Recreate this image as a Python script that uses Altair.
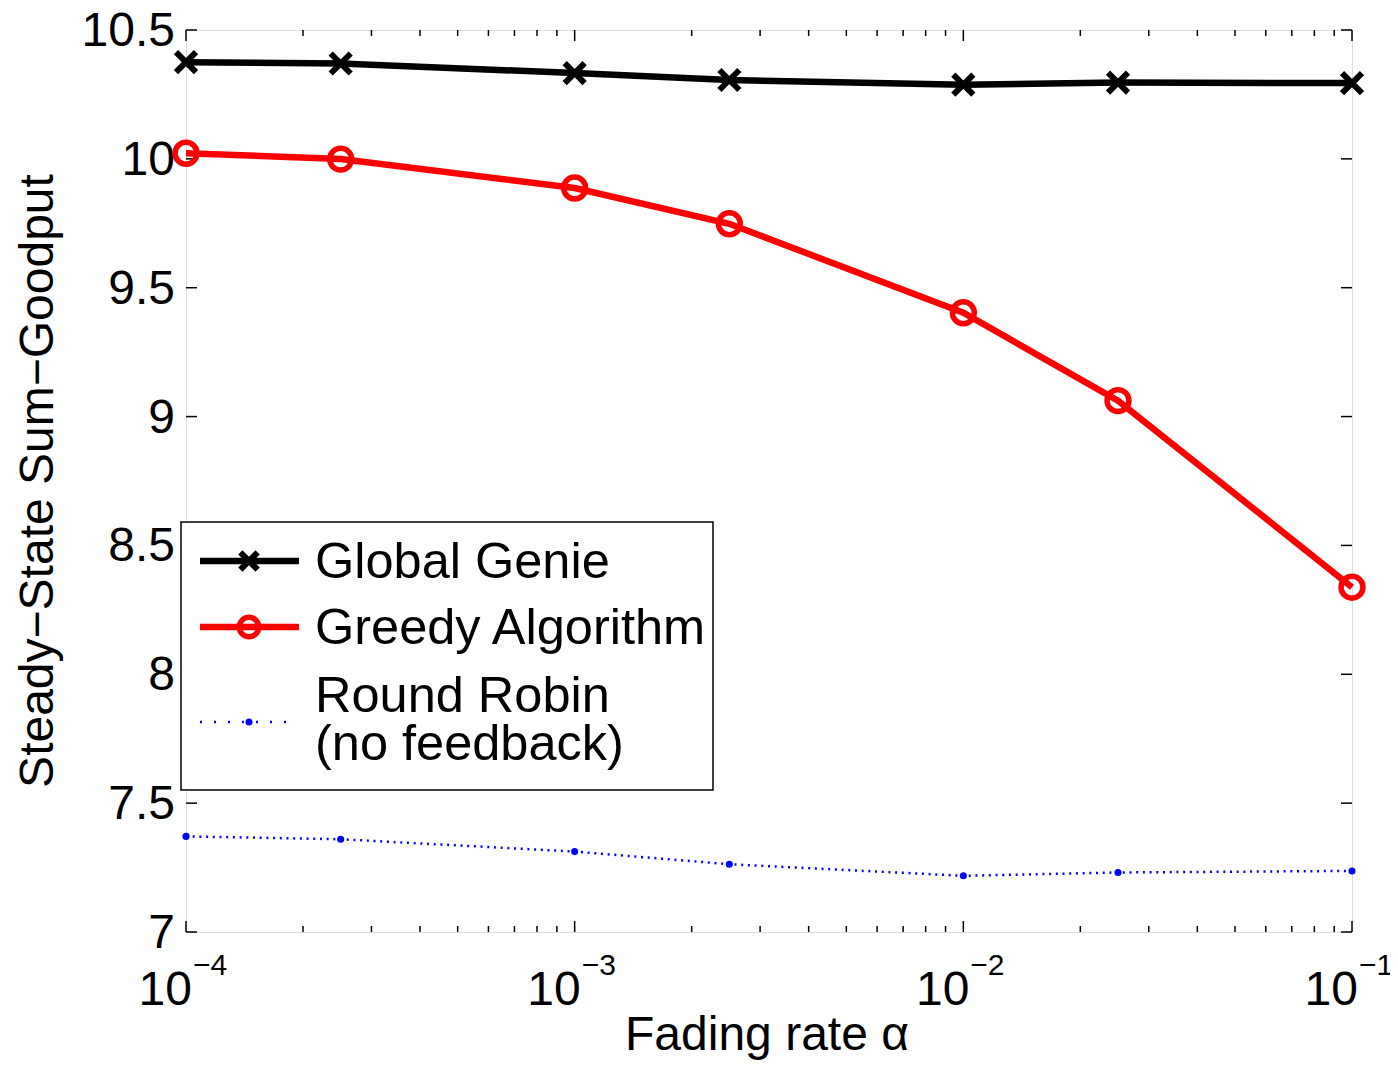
import altair as alt
import pandas as pd

# ---- data ----
alpha = [1e-4, 2.5e-4, 1e-3, 2.5e-3, 1e-2, 2.5e-2, 1e-1]
genie = [10.375, 10.370, 10.333, 10.306, 10.288, 10.296, 10.294]
greedy = [10.022, 9.999, 9.887, 9.748, 9.403, 9.062, 8.338]
robin = [7.371, 7.360, 7.312, 7.263, 7.218, 7.231, 7.237]

x_major = [1e-4, 1e-3, 1e-2, 1e-1]
x_exp = ["\u22124", "\u22123", "\u22122", "\u22121"]
x_minor = [m * d for d in [1e-4, 1e-3, 1e-2] for m in range(2, 10)]
y_ticks = [7, 7.5, 8, 8.5, 9, 9.5, 10, 10.5]
y_labels = ["7", "7.5", "8", "8.5", "9", "9.5", "10", "10.5"]

legend_labels = ["Global Genie", "Greedy Algorithm", "Round Robin", "(no feedback)"]
x_title_text = "Fading rate \u03b1"
y_title_text = "Steady\u2212State Sum\u2212Goodput"

W, H = 1166, 902
FONT = "Liberation Sans"
FS = 48

df = pd.DataFrame({"alpha": alpha, "genie": genie, "greedy": greedy, "robin": robin})
xs = alt.Scale(type="log", domain=[1e-4, 1e-1], nice=False)
ys = alt.Scale(domain=[7, 10.5], nice=False, zero=False)

X = alt.X("alpha:Q", scale=xs, axis=None)

def yq(col):
    return alt.Y(f"{col}:Q", scale=ys, axis=None)

base = alt.Chart(df)

# ticks data
xmaj = pd.DataFrame({"t": x_major, "e": x_exp})
xmin = pd.DataFrame({"t": x_minor})
ydf = pd.DataFrame({"v": y_ticks, "lab": y_labels})
XT = alt.X("t:Q", scale=xs, axis=None)
YT = alt.Y("v:Q", scale=ys, axis=None)
tick_style = dict(color="black", strokeWidth=1.5)
ticks = [
    alt.Chart(xmaj).mark_rule(**tick_style).encode(x=XT, y=alt.value(H), y2=alt.value(H - 11)),
    alt.Chart(xmaj).mark_rule(**tick_style).encode(x=XT, y=alt.value(0), y2=alt.value(11)),
    alt.Chart(xmin).mark_rule(**tick_style).encode(x=XT, y=alt.value(H), y2=alt.value(H - 6)),
    alt.Chart(xmin).mark_rule(**tick_style).encode(x=XT, y=alt.value(0), y2=alt.value(6)),
    alt.Chart(ydf).mark_rule(**tick_style).encode(y=YT, x=alt.value(0), x2=alt.value(11)),
    alt.Chart(ydf).mark_rule(**tick_style).encode(y=YT, x=alt.value(W), x2=alt.value(W - 11)),
]

# y tick labels and title
ylab = alt.Chart(ydf).mark_text(font=FONT, fontSize=FS, align="right", baseline="middle",
                                dy=2, color="black").encode(
    y=YT, x=alt.value(-11), text="lab:N")
y_title = alt.Chart(xmaj.head(1)).mark_text(font=FONT, fontSize=FS, align="center",
                                            baseline="alphabetic", angle=270, color="black").encode(
    x=alt.value(-133), y=alt.value(H / 2), text=alt.value(y_title_text))

# x tick labels with superscript exponent
xlab_base = alt.Chart(xmaj).mark_text(font=FONT, fontSize=FS, align="right", baseline="alphabetic",
                                      dx=6, color="black").encode(
    x=XT, y=alt.value(H + 73), text=alt.value("10"))
xlab_exp = alt.Chart(xmaj).mark_text(font=FONT, fontSize=30, align="left", baseline="alphabetic",
                                     dx=7, color="black").encode(
    x=XT, y=alt.value(H + 43), text="e:N")
x_title = alt.Chart(xmaj.head(1)).mark_text(font=FONT, fontSize=FS, align="center",
                                            baseline="alphabetic", color="black").encode(
    x=alt.value(W / 2 - 2), y=alt.value(H + 118), text=alt.value(x_title_text))

# series
X_PATH = "M-1,-1L1,1M-1,1L1,-1"
LW = 6.5
genie_line = base.mark_line(color="black", strokeWidth=LW).encode(x=X, y=yq("genie"))
genie_pts = base.mark_point(shape=X_PATH, size=400, color="black", strokeWidth=6,
                            filled=False, opacity=1).encode(x=X, y=yq("genie"))
greedy_line = base.mark_line(color="#ff0000", strokeWidth=LW).encode(x=X, y=yq("greedy"))
greedy_pts = base.mark_point(shape="circle", size=480, color="#ff0000", strokeWidth=5.5,
                             filled=False, opacity=1).encode(x=X, y=yq("greedy"))
robin_line = base.mark_line(color="#0000ff", strokeWidth=2.5, strokeDash=[2, 4.7]).encode(x=X, y=yq("robin"))
robin_pts = base.mark_point(shape="circle", size=50, color="#0000ff", filled=True,
                            opacity=1).encode(x=X, y=yq("robin"))

# legend
one = pd.DataFrame({"k": [0]})
lg = alt.Chart(one)
legend = [
    lg.mark_rect(fill="white", stroke="black", strokeWidth=1.5).encode(
        x=alt.value(-5), x2=alt.value(527), y=alt.value(492), y2=alt.value(760)),
    lg.mark_rule(color="black", strokeWidth=LW).encode(x=alt.value(14), x2=alt.value(113), y=alt.value(531)),
    lg.mark_point(shape=X_PATH, size=300, color="black", strokeWidth=6, filled=False, opacity=1).encode(
        x=alt.value(63), y=alt.value(531)),
    lg.mark_rule(color="#ff0000", strokeWidth=LW).encode(x=alt.value(14), x2=alt.value(113), y=alt.value(597)),
    lg.mark_point(shape="circle", size=380, color="#ff0000", strokeWidth=5.5, filled=False, opacity=1).encode(
        x=alt.value(63), y=alt.value(597)),
    lg.mark_rule(color="#0000ff", strokeWidth=2.5, strokeDash=[2, 12]).encode(
        x=alt.value(14), x2=alt.value(110), y=alt.value(692)),
    lg.mark_point(shape="circle", size=50, color="#0000ff", filled=True, opacity=1).encode(
        x=alt.value(63), y=alt.value(692)),
]
ly = [548, 614, 682, 730]
for lab, yy in zip(legend_labels, ly):
    legend.append(lg.mark_text(font=FONT, fontSize=50.5, align="left", baseline="alphabetic",
                               color="black").encode(x=alt.value(129), y=alt.value(yy),
                                                     text=alt.value(lab)))

chart = alt.layer(
    *ticks, ylab, y_title,
    robin_line, robin_pts, greedy_line, greedy_pts, genie_line, genie_pts,
    *legend, xlab_base, xlab_exp, x_title,
).properties(
    width=W, height=H,
    autosize=alt.AutoSizeParams(type="none"),
    padding={"left": 178, "top": 22, "right": 38, "bottom": 128},
).configure_view(stroke="black", strokeWidth=2).configure(background="white")

chart.save("out.html", embed_options={"renderer": "svg", "actions": False})
